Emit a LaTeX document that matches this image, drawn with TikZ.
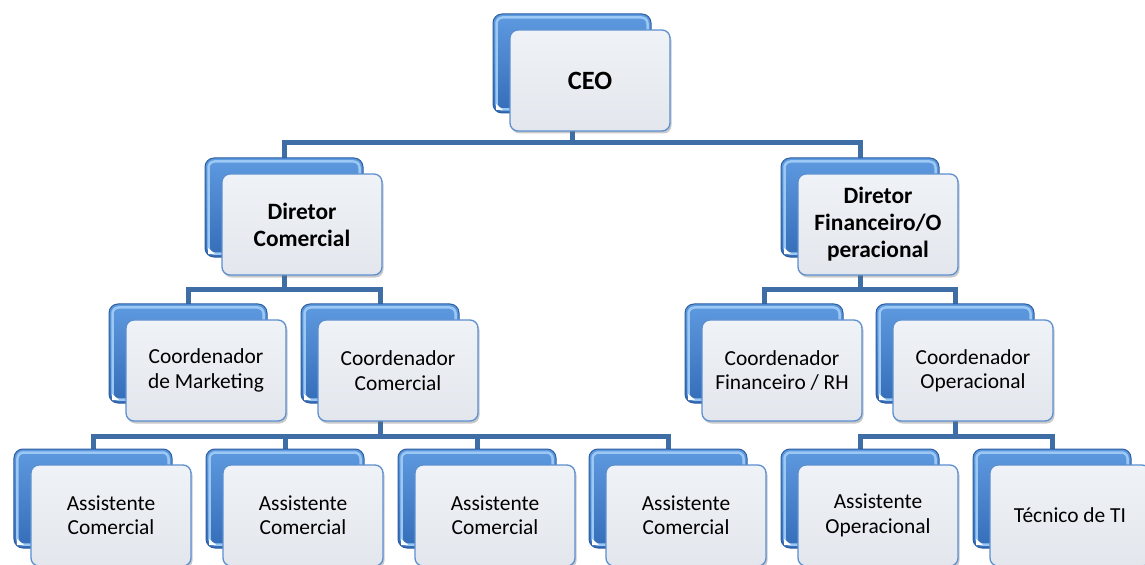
\documentclass[tikz,border=0pt]{standalone}
\usepackage{fontspec}
\setmainfont{Carlito}
\usetikzlibrary{calc,shadows}

\definecolor{conncol}{HTML}{3F6EA6}
\definecolor{backedge}{HTML}{2D5E9F}
\definecolor{backtop}{HTML}{5E9AE0}
\definecolor{backbot}{HTML}{356DB8}
\definecolor{bevel}{HTML}{9CC8F4}
\definecolor{frontedge}{HTML}{5B8FD0}
\definecolor{fronttop}{HTML}{EFF2F6}
\definecolor{frontbot}{HTML}{E3E7ED}

\pgfdeclarelayer{background}
\pgfsetlayers{background,main}

\tikzset{
  conn/.style={draw=conncol, line width=5bp, line join=miter},
  backbox/.style={minimum width=158bp, minimum height=99bp, inner sep=0pt, outer sep=0pt,
    rounded corners=9bp, draw=backedge, line width=1bp, top color=backtop, bottom color=backbot},
  bevelline/.style={draw=bevel, line width=2.5bp, rounded corners=6bp},
  frontbox/.style={minimum width=160bp, minimum height=101bp, inner sep=2pt, outer sep=0pt,
    rounded corners=8bp, draw=frontedge, line width=1.3bp, top color=fronttop, bottom color=frontbot,
    align=center, text=black,
    drop shadow={shadow xshift=1.5bp, shadow yshift=-2.5bp, opacity=0.35, fill=black!60}},
  reg/.style={font=\fontsize{21.5}{24.5}\selectfont},
  bold/.style={font=\fontsize{23.5}{27}\selectfont\bfseries},
  big/.style={font=\fontsize{26.5}{30}\selectfont\bfseries},
}

% one position of the chart: a bevelled blue card with a light card in front of it
% #1 name, #2 x of the blue card centre, #3 top of the blue card, #4 text style, #5 text
\newcommand\orgunit[5]{%
  \node[backbox] (#1B) at (#2,#3+49.5) {};
  \draw[bevelline] ($(#1B.south west)+(3.5,-3.5)$) rectangle ($(#1B.north east)+(-3.5,3.5)$);
  \fill[white] ($(#1B.south west)+(3,-9)$) -- ++(0,6) -- ++(7,0) -- cycle;
  \node[frontbox,#4] (#1) at ($(#1B)+(18,17)$) {#5};
}

\begin{document}
\begin{tikzpicture}[x=1bp,y=-1bp]
  \useasboundingbox (0,0) rectangle (1145,565);
  \clip (0,0) rectangle (1145,565);

  % levels of the horizontal bus lines
  \coordinate (L1) at (0,143);
  \coordinate (L2) at (0,290);
  \coordinate (L3) at (0,436);

  \orgunit{ceo}{572}{14}{big}{CEO}

  \orgunit{dc}{284}{158}{bold}{Diretor\\Comercial}
  \orgunit{df}{860}{158}{bold}{Diretor\\Financeiro/O\\peracional}

  \orgunit{cm}{188}{304}{reg}{Coordenador\\de Marketing}
  \orgunit{cc}{380}{304}{reg}{Coordenador\\Comercial}
  \orgunit{cf}{764}{304}{reg}{Coordenador\\Financeiro / RH}
  \orgunit{co}{955}{304}{reg}{Coordenador\\Operacional}

  \orgunit{aa}{93}{449}{reg}{Assistente\\Comercial}
  \orgunit{ab}{285}{449}{reg}{Assistente\\Comercial}
  \orgunit{ac}{477}{449}{reg}{Assistente\\Comercial}
  \orgunit{ad}{668}{449}{reg}{Assistente\\Comercial}
  \orgunit{ao}{860}{449}{reg}{Assistente\\Operacional}
  \orgunit{ti}{1052}{449}{reg}{Técnico de TI}

  \begin{pgfonlayer}{background}
    \fill[white] (0,0) rectangle (1145,565);

    \draw[conn] (ceoB.center) -- (ceoB.center |- L1) -| (dcB.north);
    \draw[conn] (ceoB.center) -- (ceoB.center |- L1) -| (dfB.north);

    \draw[conn] (dcB.center) -- (dcB.center |- L2) -| (cmB.north);
    \draw[conn] (dcB.center) -- (dcB.center |- L2) -| (ccB.north);
    \draw[conn] (dfB.center) -- (dfB.center |- L2) -| (cfB.north);
    \draw[conn] (dfB.center) -- (dfB.center |- L2) -| (coB.north);

    \draw[conn] (ccB.center) -- (ccB.center |- L3) -| (aaB.north);
    \draw[conn] (ccB.center) -- (ccB.center |- L3) -| (abB.north);
    \draw[conn] (ccB.center) -- (ccB.center |- L3) -| (acB.north);
    \draw[conn] (ccB.center) -- (ccB.center |- L3) -| (adB.north);
    \draw[conn] (coB.center) -- (coB.center |- L3) -| (aoB.north);
    \draw[conn] (coB.center) -- (coB.center |- L3) -| (tiB.north);
  \end{pgfonlayer}
\end{tikzpicture}
\end{document}
